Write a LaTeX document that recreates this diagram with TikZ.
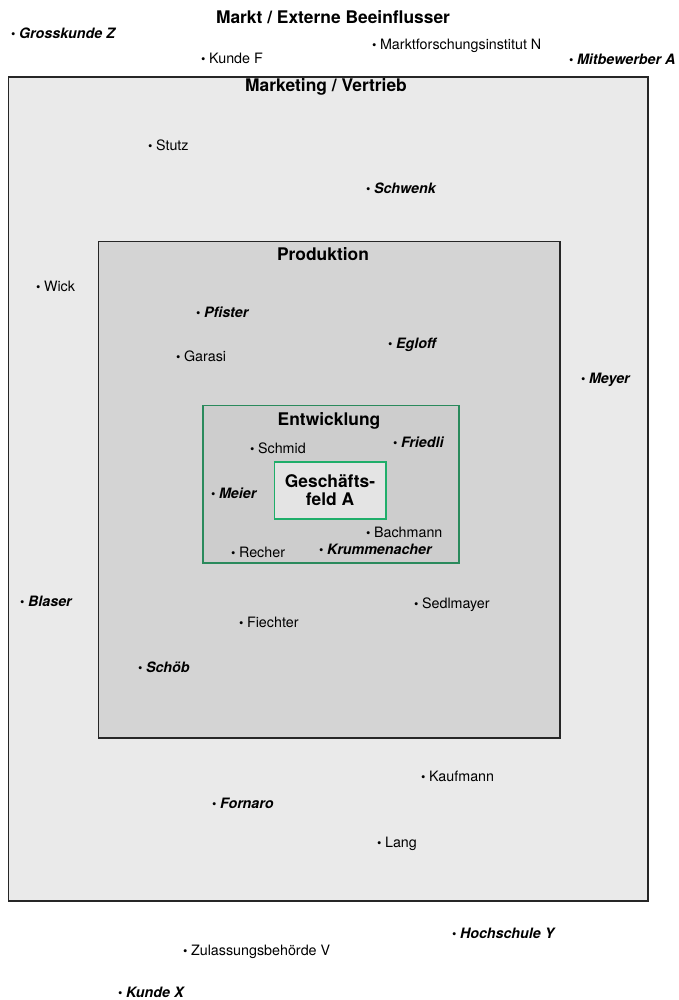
\documentclass[tikz,border=0pt]{standalone}
\usepackage{fontspec}
\setmainfont{TeX Gyre Heros}
\begin{document}
\begin{tikzpicture}[x=1pt,y=-1pt,
  lbl/.style={anchor=west,inner sep=0pt,font=\fontsize{14.3}{16}\selectfont},
  nm/.style={anchor=west,inner sep=0pt,font=\fontsize{14.3}{16}\selectfont\bfseries\itshape},
  ttl/.style={inner sep=0pt,font=\fontsize{17.4}{19}\selectfont\bfseries,align=center},
  box/.style={line width=1.3pt,draw=black!85}]
\definecolor{outerfill}{HTML}{EAEAEA}
\definecolor{prodfill}{HTML}{D4D4D4}
\definecolor{entfill}{HTML}{CDCDCD}
\definecolor{gffill}{HTML}{E4E4E4}
\definecolor{dgreen}{HTML}{2A8A5C}
\definecolor{lgreen}{HTML}{1FAE6A}
\newcommand{\bul}{{\upshape\mdseries\fontsize{12.5}{13}\selectfont\textbullet}\hspace{3.5pt}}
\useasboundingbox (0,0) rectangle (679,1000);
\fill[white] (0,0) rectangle (679,1000);
% boxes
\draw[box,fill=outerfill] (8.5,77) rectangle (648,901) node[pos=0,coordinate] (mv) {};
\draw[box,fill=prodfill] (98.5,241.5) rectangle (560,738) node[pos=0,coordinate] (pr) {};
\draw[line width=1.3pt,draw=dgreen,fill=entfill] (203,405.5) rectangle (459,563) node[pos=0,coordinate] (en) {};
\draw[line width=1.1pt,draw=lgreen,fill=gffill] (274.5,462) rectangle (386,519) node[pos=0,coordinate] (gf) {};
% titles
\node[ttl] (t1) at (333,17) {Markt / Externe Beeinflusser};
\node[ttl] (t2) at (326,87) {Marketing / Vertrieb};
\node[ttl] (t3) at (323,254) {Produktion};
\node[ttl] (t4) at (329,421) {Entwicklung};
\node[ttl] (t5) at (330,490) {Geschäfts-\\[-1pt]feld A};
% labels
\node[nm] (grz) at (11,33) {\bul Grosskunde Z};
\node[lbl] (kf) at (201,58) {\bul Kunde F};
\node[lbl] (mfi) at (372,46) {\bul Marktforschungsinstitut N};
\node[nm] (mba) at (569,59) {\bul Mitbewerber A};
\node[lbl] (stu) at (148,145) {\bul Stutz};
\node[nm] (sch) at (366,188) {\bul Schwenk};
\node[lbl] (wic) at (36,286) {\bul Wick};
\node[nm] (pfi) at (196,312) {\bul Pfister};
\node[nm] (egl) at (388,345) {\bul Egloff};
\node[lbl] (gar) at (176,356) {\bul Garasi};
\node[nm] (mey) at (581,380) {\bul Meyer};
\node[lbl] (smd) at (250,448) {\bul Schmid};
\node[nm] (fri) at (393,442) {\bul Friedli};
\node[nm] (mei) at (211,493) {\bul Meier};
\node[lbl] (bac) at (366,532) {\bul Bachmann};
\node[lbl] (rec) at (231,552) {\bul Recher};
\node[nm] (kru) at (319,549) {\bul Krummenacher};
\node[nm] (bla) at (20,601) {\bul Blaser};
\node[lbl] (sed) at (414,605) {\bul Sedlmayer};
\node[lbl] (fie) at (239,622) {\bul Fiechter};
\node[nm] (scb) at (138,667) {\bul Schöb};
\node[lbl] (kau) at (421,776) {\bul Kaufmann};
\node[nm] (for) at (212,803) {\bul Fornaro};
\node[lbl] (lan) at (377,844) {\bul Lang};
\node[nm] (hoc) at (452,933) {\bul Hochschule Y};
\node[lbl] (zul) at (183,952) {\bul Zulassungsbehörde V};
\node[nm] (kux) at (118,992) {\bul Kunde X};
\end{tikzpicture}
\end{document}
